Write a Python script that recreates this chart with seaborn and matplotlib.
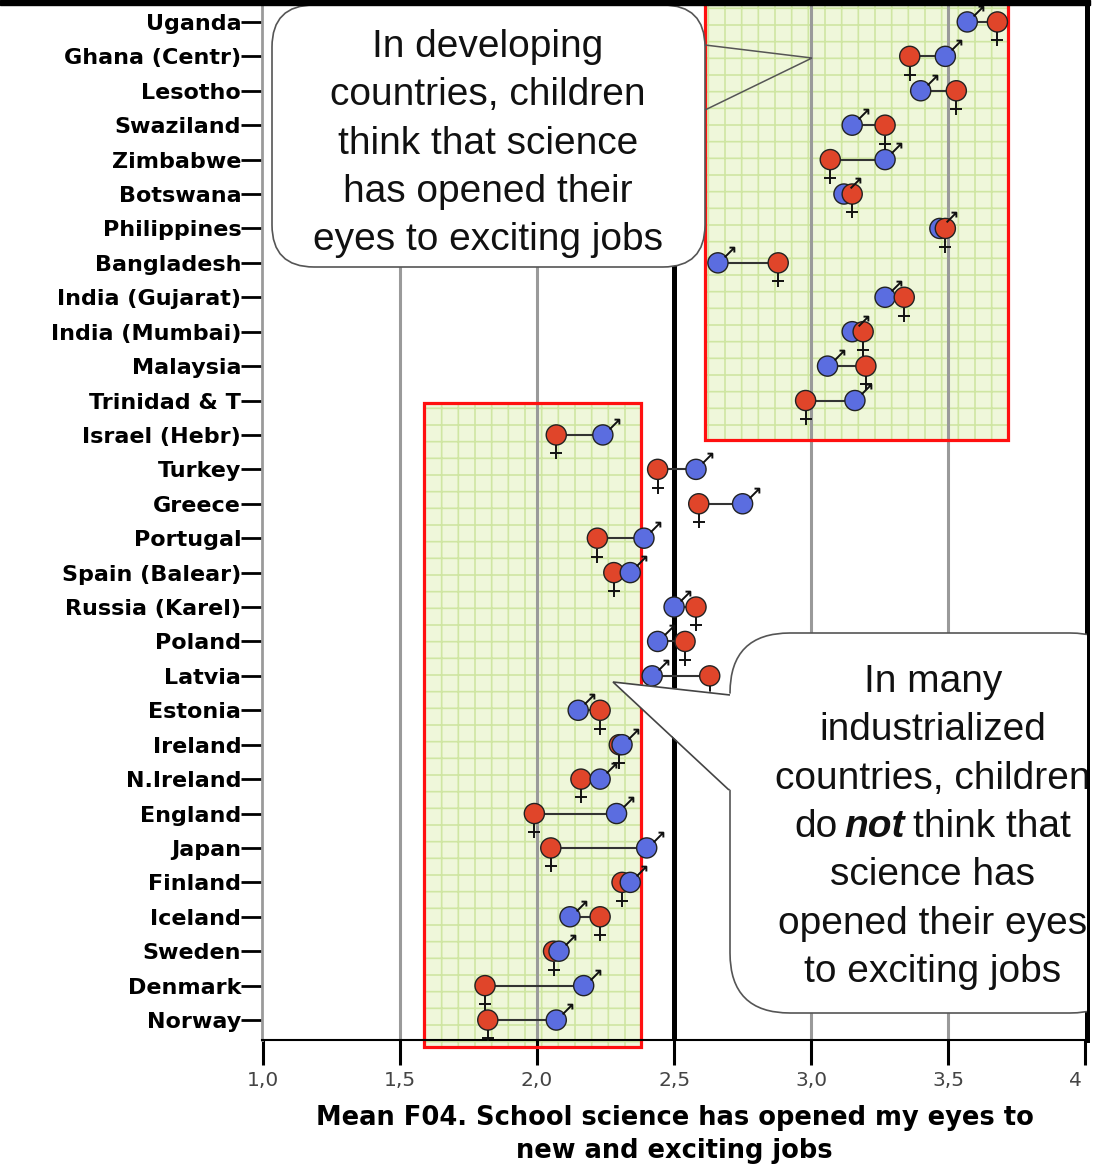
import matplotlib
matplotlib.use("Agg")
import matplotlib.pyplot as plt
import matplotlib.patches as mpatches
import matplotlib.transforms as mtransforms
from matplotlib.path import Path
import seaborn as sns
import pandas as pd

countries = ["Uganda", "Ghana (Centr)", "Lesotho", "Swaziland", "Zimbabwe", "Botswana",
             "Philippines", "Bangladesh", "India (Gujarat)", "India (Mumbai)", "Malaysia",
             "Trinidad & T", "Israel (Hebr)", "Turkey", "Greece", "Portugal",
             "Spain (Balear)", "Russia (Karel)", "Poland", "Latvia", "Estonia", "Ireland",
             "N.Ireland", "England", "Japan", "Finland", "Iceland", "Sweden", "Denmark",
             "Norway"]
boys = [3.57, 3.49, 3.40, 3.15, 3.27, 3.12, 3.47, 2.66, 3.27, 3.15, 3.06, 3.16,
        2.24, 2.58, 2.75, 2.39, 2.34, 2.50, 2.44, 2.42, 2.15, 2.31, 2.23, 2.29,
        2.40, 2.34, 2.12, 2.08, 2.17, 2.07]
girls = [3.68, 3.36, 3.53, 3.27, 3.07, 3.15, 3.49, 2.88, 3.34, 3.19, 3.20, 2.98,
         2.07, 2.44, 2.59, 2.22, 2.28, 2.58, 2.54, 2.63, 2.23, 2.30, 2.16, 1.99,
         2.05, 2.31, 2.23, 2.06, 1.81, 1.82]
xticks = [1.0, 1.5, 2.0, 2.5, 3.0, 3.5, 4.0]
xticklabels = ["1,0", "1,5", "2,0", "2,5", "3,0", "3,5", "4,0"]
gray_lines = [1.5, 2.0, 3.0, 3.5]
mid_line = 2.5

BLUE = "#5b6de0"
RED = "#e0452a"
W, H = 1099, 1169

sns.set_style("white")
plt.rcParams["font.family"] = ["DejaVu Sans"]
plt.rcParams["hatch.linewidth"] = 1.2

pos = list(range(len(countries)))
df = pd.DataFrame({
    "pos": pos * 2,
    "score": boys + girls,
    "sex": ["boys"] * len(boys) + ["girls"] * len(girls),
}).sort_values("score")

fig = plt.figure(figsize=(W / 100, H / 100), dpi=100)
ax = fig.add_axes([262 / W, 1 - 1040 / H, 825 / W, 1037 / H])
ax.set_xlim(0.996, 4.007)
ax.set_ylim(29.58, -0.55)


def fpx(x, y):
    # pixel position -> figure fraction
    return x / W, 1 - y / H


def inch(x, y):
    return x / 100, (H - y) / 100


# green highlighted zones
zones = [(2.613, 3.719, -1.5, 12.15, True), (1.588, 2.380, 11.07, 29.79, False)]
for x0, x1, y0, y1, clip in zones:
    ax.add_patch(mpatches.Rectangle((x0, y0), x1 - x0, y1 - y0, facecolor="#eff7da",
                                    edgecolor="#cfe6a2", hatch="+", lw=0, zorder=0.5,
                                    clip_on=clip))
    ax.add_patch(mpatches.Rectangle((x0, y0), x1 - x0, y1 - y0, facecolor="none",
                                    edgecolor="#ff1010", lw=2.3, zorder=1.5,
                                    clip_on=clip))

for v in gray_lines:
    ax.axvline(v, color="#9a9a9a", lw=2.2, zorder=1)
ax.axvline(mid_line, color="black", lw=3.6, zorder=1)

# connectors
ax.hlines(pos, [min(b, g) for b, g in zip(boys, girls)],
          [max(b, g) for b, g in zip(boys, girls)], color="#333333", lw=1.5, zorder=3)

sns.scatterplot(data=df, x="score", y="pos", hue="sex",
                palette={"boys": BLUE, "girls": RED}, s=210, edgecolor="#222222",
                linewidth=1.0, legend=False, zorder=4, ax=ax)

# gender symbols
male_sym = Path([(-0.5, -0.5), (0.5, 0.5), (0.0, 0.5), (0.5, 0.5), (0.5, 0.0)],
                [Path.MOVETO, Path.LINETO, Path.MOVETO, Path.LINETO, Path.LINETO])
female_sym = Path([(0, 0.5), (0, -0.5), (-0.4, -0.1), (0.4, -0.1)],
                  [Path.MOVETO, Path.LINETO, Path.MOVETO, Path.LINETO])


def shifted(dx, dy):
    return ax.transData + mtransforms.ScaledTranslation(dx / 72, dy / 72,
                                                        fig.dpi_scale_trans)


ax.plot(boys, pos, ls="none", marker=male_sym, ms=7, mfc="none", mec="#111111",
        mew=1.4, transform=shifted(8, 8), zorder=5)
ax.plot(girls, pos, ls="none", marker=female_sym, ms=10, mfc="none", mec="#111111",
        mew=1.4, transform=shifted(0, -12.5), zorder=5)

# axes styling
ax.set_yticks(pos)
ax.set_yticklabels(countries, fontweight="bold", fontsize=16, color="black")
ax.set_xticks(xticks)
ax.set_xticklabels(xticklabels)
ax.tick_params(axis="y", left=True, length=15, width=2, color="black", pad=0,
               direction="out")
ax.tick_params(axis="x", bottom=True, length=18, width=2.2, color="black", pad=4,
               labelsize=14.5, labelcolor="#444444", direction="out")
ax.set_ylabel("")
ax.set_xlabel("Mean F04. School science has opened my eyes to\nnew and exciting jobs",
              fontsize=18.5, fontweight="bold", labelpad=11, linespacing=1.35,
              color="black")
clipbox = mtransforms.Bbox([[0, 0], [1083, H]])
ax.get_xticklabels()[-1].set_clip_box(clipbox)

ax.spines["top"].set_visible(False)
ax.spines["right"].set_color("black")
ax.spines["right"].set_linewidth(3.6)
ax.spines["bottom"].set_color("black")
ax.spines["bottom"].set_linewidth(1.5)
ax.spines["left"].set_color("#9a9a9a")
ax.spines["left"].set_linewidth(2)

fig.add_artist(mpatches.Rectangle((0, 1 - 5 / H), 1090 / W, 5 / H, transform=fig.transFigure,
                                  color="black", zorder=10))

# callout 1
x0, y0 = inch(272, 267)
ax.add_patch(mpatches.FancyBboxPatch((x0, y0), 4.33, 2.62,
                                     boxstyle="round,pad=0,rounding_size=0.42",
                                     transform=fig.dpi_scale_trans, facecolor="white",
                                     edgecolor="#555555", lw=1.2, zorder=6))
ax.add_patch(mpatches.Polygon([inch(705, 45), inch(812, 58), inch(705, 110)], closed=False,
                              fill=False, edgecolor="#555555", lw=1.1,
                              transform=fig.dpi_scale_trans, zorder=6))
lines1 = ["In developing", "countries, children", "think that science",
          "has opened their", "eyes to exciting jobs"]
for i, s in enumerate(lines1):
    ax.text(*fpx(488, 57 + 48.3 * i), s, transform=fig.transFigure, ha="center",
            va="baseline", fontsize=28, family="Liberation Sans", color="#111111",
            zorder=7)

# callout 2
x0, y0 = inch(730, 1013)
ax.add_patch(mpatches.FancyBboxPatch((x0, y0), 4.0, 3.8,
                                     boxstyle="round,pad=0,rounding_size=0.6",
                                     transform=fig.dpi_scale_trans, facecolor="white",
                                     edgecolor="#555555", lw=1.2, zorder=6, clip_on=True))
ax.add_patch(mpatches.Polygon([inch(734, 694), inch(613, 682), inch(734, 793)],
                              closed=True, facecolor="white", edgecolor="none",
                              transform=fig.dpi_scale_trans, zorder=6.5))
ax.add_patch(mpatches.Polygon([inch(730, 695), inch(613, 682), inch(729, 790)],
                              closed=False, fill=False, edgecolor="#444444", lw=1.2,
                              transform=fig.dpi_scale_trans, zorder=6.6))
lines2 = ["In many", "industrialized", "countries, children", None, "science has",
          "opened their eyes", "to exciting jobs"]
for i, s in enumerate(lines2):
    yb = 692 + 48.3 * i
    if s is None:
        ax.text(*fpx(838, yb), "do", transform=fig.transFigure, ha="right", va="baseline",
                fontsize=28, family="Liberation Sans", color="#111111", zorder=7,
                clip_on=True)
        ax.text(*fpx(875, yb), "not", transform=fig.transFigure, ha="center",
                va="baseline", fontsize=28, family="Liberation Sans", fontweight="bold",
                style="italic", color="#111111", zorder=7, clip_on=True)
        ax.text(*fpx(913, yb), "think that", transform=fig.transFigure, ha="left",
                va="baseline", fontsize=28, family="Liberation Sans", color="#111111",
                zorder=7, clip_on=True)
    else:
        ax.text(*fpx(933, yb), s, transform=fig.transFigure, ha="center", va="baseline",
                fontsize=28, family="Liberation Sans", color="#111111", zorder=7,
                clip_on=True)

fig.savefig("out.png", dpi=100)
